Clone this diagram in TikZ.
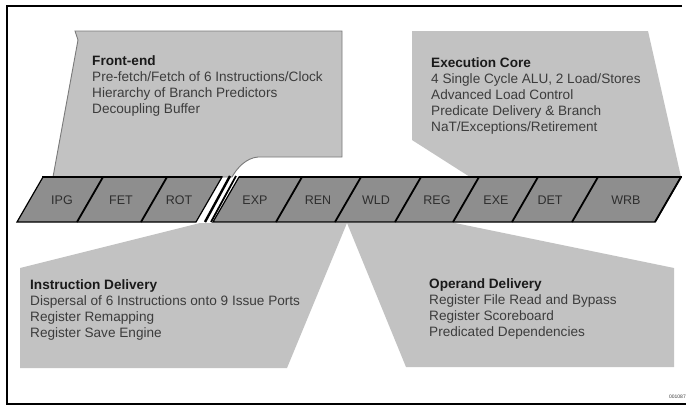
\documentclass[tikz,border=0pt]{standalone}
\usepackage{fontspec}
\setmainfont{Liberation Sans}
\definecolor{calloutgray}{HTML}{C2C2C2}
\definecolor{bandgray}{HTML}{8E8E8E}
\definecolor{edgegray}{HTML}{7A7A7A}
\definecolor{bodygray}{HTML}{3C3C3C}
\definecolor{headgray}{HTML}{1A1A1A}
\definecolor{labelgray}{HTML}{2E2E2E}
\begin{document}
\begin{tikzpicture}[x=1pt,y=-1pt,
  callout/.style={fill=calloutgray},
  band/.style={fill=bandgray, draw=black, line width=1.2pt, line join=miter},
  topedge/.style={draw=black, line width=2.6pt},
  divider/.style={draw=black, line width=1.8pt},
  breakline/.style={draw=black, line width=2.4pt},
  stagelabel/.style={font=\fontsize{12.5}{14}\selectfont, text=labelgray, inner sep=0pt},
  blocktext/.style={font=\fontsize{13.6}{16}\selectfont, text=bodygray, align=left, anchor=north west, inner sep=0pt},
]
\useasboundingbox (0,0) rectangle (686,407);
\fill[white] (0,0) rectangle (686,407);

% outer frame
\draw[line width=1.2pt] (682,6) -- (7,6) -- (7,404) -- (686,404);

% callouts
\path[callout, draw=edgegray, line width=0.9pt]
  (75,31) -- (342,31) -- (342,157) -- (258,157)
  .. controls (246,158) and (237,168) .. (232,177)
  -- (53,177) -- (78,40) -- cycle;
\path[callout] (412,31) -- (648,31) -- (681,177) -- (470,177) -- (412,140) -- cycle;
\path[callout] (200,223) -- (20,268) -- (20,368) -- (287,368) -- (347,223) -- cycle;
\path[callout] (347,223) -- (406,367) -- (674,367) -- (674,268) -- (455,223) -- cycle;

% pipeline band
\path[band] (43,177) -- (222,177) -- (196,222) -- (17,222) -- cycle;
\path[band] (239,177) -- (681,177) -- (655,222) -- (213,222) -- cycle;
\draw[topedge] (42,177) -- (222,177);
\draw[topedge] (239,177) -- (682,177);
\draw[divider] (103,177) -- (77,222);
\draw[divider] (167,177) -- (141,222);
\draw[divider] (302,177) -- (276,222);
\draw[divider] (361,177) -- (335,222);
\draw[divider] (421,177) -- (395,222);
\draw[divider] (479,177) -- (453,222);
\draw[divider] (538,177) -- (512,222);
\draw[divider] (598,177) -- (572,222);
\draw[divider] (681,177) -- (655,222);
% break marks
\draw[breakline] (230,176) -- (205,222);
\draw[breakline, line width=1.8pt] (236,176) -- (211,222);

% stage labels
\node[stagelabel] (ipg) at (62,200) {IPG};
\node[stagelabel] (fet) at (121,200) {FET};
\node[stagelabel] (rot) at (179,200) {ROT};
\node[stagelabel] (exp) at (255,200) {EXP};
\node[stagelabel] (ren) at (318,200) {REN};
\node[stagelabel] (wld) at (376,200) {WLD};
\node[stagelabel] (reg) at (437,200) {REG};
\node[stagelabel] (exe) at (496,200) {EXE};
\node[stagelabel] (det) at (550,200) {DET};
\node[stagelabel] (wrb) at (626,200) {WRB};

% text blocks
\node[blocktext] (frontend) at (92,55) {{\color{headgray}\bfseries Front-end}\\
Pre-fetch/Fetch of 6 Instructions/Clock\\
Hierarchy of Branch Predictors\\
Decoupling Buffer};
\node[blocktext] (execcore) at (431,57) {{\color{headgray}\bfseries Execution Core}\\
4 Single Cycle ALU, 2 Load/Stores\\
Advanced Load Control\\
Predicate Delivery \& Branch\\
NaT/Exceptions/Retirement};
\node[blocktext] (instdel) at (30,279) {{\color{headgray}\bfseries Instruction Delivery}\\
Dispersal of 6 Instructions onto 9 Issue Ports\\
Register Remapping\\
Register Save Engine};
\node[blocktext] (operdel) at (429,278) {{\color{headgray}\bfseries Operand Delivery}\\
Register File Read and Bypass\\
Register Scoreboard\\
Predicated Dependencies};

\node[font=\fontsize{5}{6}\selectfont, text=bodygray, anchor=east, inner sep=0pt] (figid) at (686,397) {001087};
\end{tikzpicture}
\end{document}
